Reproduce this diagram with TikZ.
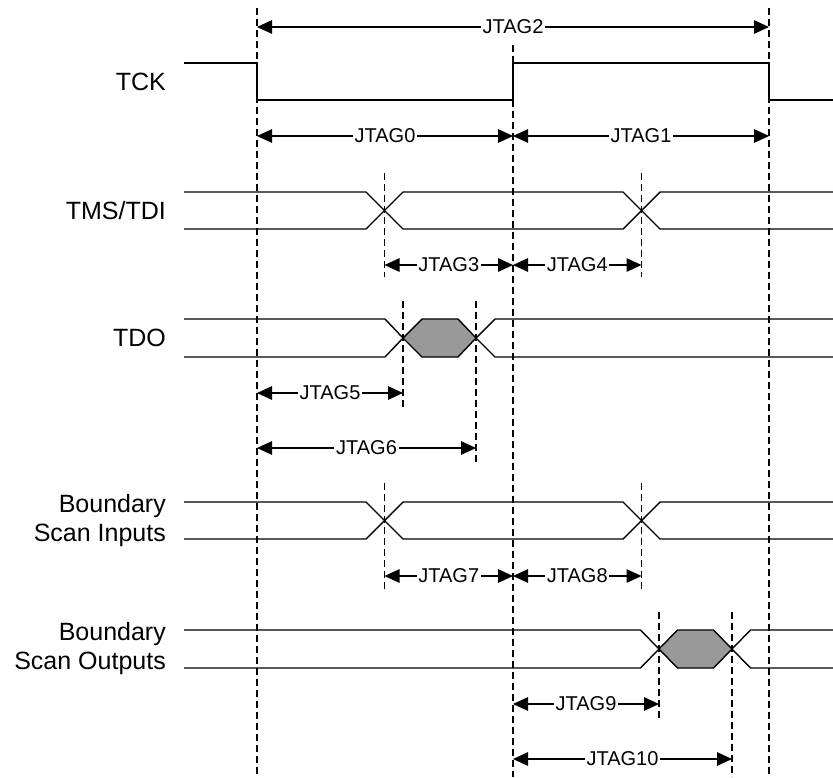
\documentclass[tikz,border=0pt]{standalone}
\usepackage{fontspec}
\setmainfont{Liberation Sans}
\usetikzlibrary{arrows.meta}
\definecolor{hexfill}{RGB}{153,153,153}
\begin{document}
\begin{tikzpicture}[x=1pt,y=-1pt,
  sig/.style={line width=1.4pt, line join=miter},
  guide/.style={line width=1.3pt, dash pattern=on 7pt off 4pt},
  dim/.style={line width=1.3pt, -{Triangle[length=15pt,width=13.5pt]}},
  dimlbl/.style={font=\fontsize{20}{24}\selectfont, inner sep=1.5pt},
  siglbl/.style={font=\fontsize{25}{29}\selectfont, anchor=east, align=right, inner sep=0pt},
  bus/.style={sig, fill=hexfill}]
\useasboundingbox (0,0) rectangle (833,777);

% ---------- signal labels ----------
\node[siglbl] (tck) at (166,82) {TCK};
\node[siglbl] (tms) at (166,210.5) {TMS/TDI};
\node[siglbl] (tdo) at (166,338) {TDO};
\node[siglbl] (bsi) at (166,521) {Boundary\\Scan Inputs};
\node[siglbl] (bso) at (166,649) {Boundary\\Scan Outputs};

% ---------- waveforms ----------
% TCK
\draw[sig] (184,63) -- (257,63) -- (257,100) -- (513,100) -- (513,63) -- (769,63) -- (769,100) -- (833,100);
% TMS/TDI
\draw[sig] (184,192) -- (366,192) -- (403,229) -- (623,229) -- (660,192) -- (833,192);
\draw[sig] (184,229) -- (366,229) -- (403,192) -- (623,192) -- (660,229) -- (833,229);
% TDO
\draw[sig] (184,319) -- (385,319) -- (403,338);
\draw[sig] (184,357) -- (385,357) -- (403,338);
\draw[bus] (403,338) -- (422,319) -- (458,319) -- (476,338) -- (458,357) -- (422,357) -- cycle;
\draw[sig] (476,338) -- (495,319) -- (833,319);
\draw[sig] (476,338) -- (495,357) -- (833,357);
% Boundary Scan Inputs
\draw[sig] (184,502) -- (366,502) -- (403,539) -- (623,539) -- (660,502) -- (833,502);
\draw[sig] (184,539) -- (366,539) -- (403,502) -- (623,502) -- (660,539) -- (833,539);
% Boundary Scan Outputs
\draw[sig] (184,630) -- (640.5,630) -- (659,649);
\draw[sig] (184,668) -- (640.5,668) -- (659,649);
\draw[bus] (659,649) -- (677.5,630) -- (713.5,630) -- (732,649) -- (713.5,668) -- (677.5,668) -- cycle;
\draw[sig] (732,649) -- (750.5,630) -- (833,630);
\draw[sig] (732,649) -- (750.5,668) -- (833,668);

% ---------- guide lines ----------
\coordinate (g0t) at (257,8);    \coordinate (g0b) at (257,777);
\coordinate (g1t) at (513,45);   \coordinate (g1b) at (513,777);
\coordinate (g2t) at (769,8);    \coordinate (g2b) at (769,777);
\coordinate (g3t) at (384.5,173); \coordinate (g3b) at (384.5,277);
\coordinate (g4t) at (641.5,173); \coordinate (g4b) at (641.5,277);
\coordinate (g5t) at (403,301);  \coordinate (g5b) at (403,408);
\coordinate (g6t) at (476,301);  \coordinate (g6b) at (476,462);
\coordinate (g7t) at (384.5,483); \coordinate (g7b) at (384.5,590);
\coordinate (g8t) at (641.5,483); \coordinate (g8b) at (641.5,590);
\coordinate (g9t) at (659,612);  \coordinate (g9b) at (659,718);
\coordinate (g10t) at (732,612); \coordinate (g10b) at (732,777);
\foreach \g in {0,...,10} {\draw[guide] (g\g t) -- (g\g b);}

% ---------- dimension arrows ----------
% JTAG2
\node[dimlbl] (j2) at (513,27) {JTAG2};
\coordinate (j2a) at (257,27); \coordinate (j2b) at (769,27);
\draw[dim] (j2) -- (j2a); \draw[dim] (j2) -- (j2b);
% JTAG0 / JTAG1
\node[dimlbl] (j0) at (385,136) {JTAG0};
\coordinate (j0a) at (257,136); \coordinate (j0b) at (513,136);
\draw[dim] (j0) -- (j0a); \draw[dim] (j0) -- (j0b);
\node[dimlbl] (j1) at (641,136) {JTAG1};
\coordinate (j1a) at (513,136); \coordinate (j1b) at (769,136);
\draw[dim] (j1) -- (j1a); \draw[dim] (j1) -- (j1b);
% JTAG3 / JTAG4
\node[dimlbl] (j3) at (448.75,265) {JTAG3};
\coordinate (j3a) at (384.5,265); \coordinate (j3b) at (513,265);
\draw[dim] (j3) -- (j3a); \draw[dim] (j3) -- (j3b);
\node[dimlbl] (j4) at (577.25,265) {JTAG4};
\coordinate (j4a) at (513,265); \coordinate (j4b) at (641.5,265);
\draw[dim] (j4) -- (j4a); \draw[dim] (j4) -- (j4b);
% JTAG5 / JTAG6
\node[dimlbl] (j5) at (330,393) {JTAG5};
\coordinate (j5a) at (257,393); \coordinate (j5b) at (403,393);
\draw[dim] (j5) -- (j5a); \draw[dim] (j5) -- (j5b);
\node[dimlbl] (j6) at (366.5,448) {JTAG6};
\coordinate (j6a) at (257,448); \coordinate (j6b) at (476,448);
\draw[dim] (j6) -- (j6a); \draw[dim] (j6) -- (j6b);
% JTAG7 / JTAG8
\node[dimlbl] (j7) at (448.75,576) {JTAG7};
\coordinate (j7a) at (384.5,576); \coordinate (j7b) at (513,576);
\draw[dim] (j7) -- (j7a); \draw[dim] (j7) -- (j7b);
\node[dimlbl] (j8) at (577.25,576) {JTAG8};
\coordinate (j8a) at (513,576); \coordinate (j8b) at (641.5,576);
\draw[dim] (j8) -- (j8a); \draw[dim] (j8) -- (j8b);
% JTAG9 / JTAG10
\node[dimlbl] (j9) at (586,704) {JTAG9};
\coordinate (j9a) at (513,704); \coordinate (j9b) at (659,704);
\draw[dim] (j9) -- (j9a); \draw[dim] (j9) -- (j9b);
\node[dimlbl] (j10) at (622.5,759) {JTAG10};
\coordinate (j10a) at (513,759); \coordinate (j10b) at (732,759);
\draw[dim] (j10) -- (j10a); \draw[dim] (j10) -- (j10b);
\end{tikzpicture}
\end{document}
